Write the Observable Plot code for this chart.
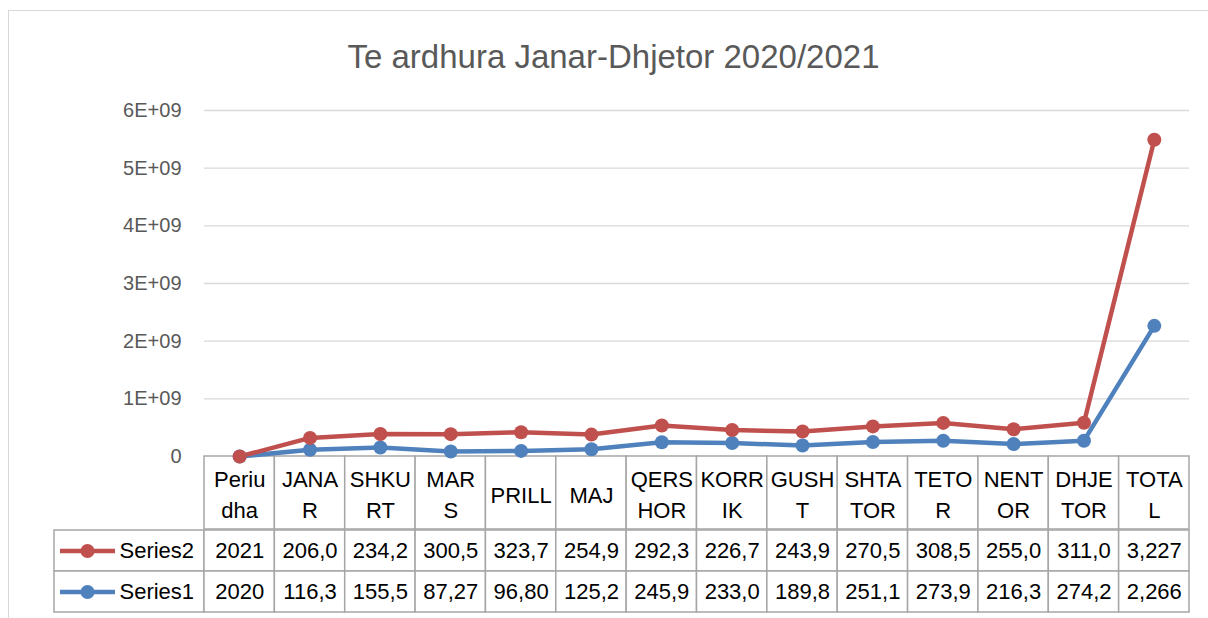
<!DOCTYPE html>
<html>
<head>
<meta charset="utf-8">
<script src="https://cdn.jsdelivr.net/npm/d3@7"></script>
<script src="https://cdn.jsdelivr.net/npm/@observablehq/plot@0.6"></script>
<style>
  body { margin: 0; background: #fff; }
  #wrap { position: relative; width: 1208px; height: 618px; overflow: hidden; font-family: "Liberation Sans", Arial, sans-serif; background: #fff; }
  #frame { position: absolute; left: 8px; top: 10px; width: 1230px; height: 640px; border: 1.5px solid #d9d9d9; box-sizing: border-box; }
  #title { position: absolute; left: 8px; width: 1211px; top: 40px; line-height: 33px; font-size: 33px; color: #595959; text-align: center; white-space: nowrap; }
  .layer { position: absolute; left: 0; top: 0; }
</style>
</head>
<body>
<div id="wrap">
  <div id="frame"></div>
  <div id="title">Te ardhura Janar-Dhjetor 2020/2021</div>
</div>
<script>
// ---- data ----
const categories = ["Periudha","JANAR","SHKURT","MARS","PRILL","MAJ","QERSHOR","KORRIK","GUSHT","SHTATOR","TETOR","NENTOR","DHJETOR","TOTAL"];
const headerLabels = ["Periu\ndha","JANA\nR","SHKU\nRT","MAR\nS","PRILL","MAJ","QERS\nHOR","KORR\nIK","GUSH\nT","SHTA\nTOR","TETO\nR","NENT\nOR","DHJE\nTOR","TOTA\nL"];
const seriesNames = ["Series2", "Series1"];
const series1 = [2020, 116.3e6, 155.5e6, 87.27e6, 96.80e6, 125.2e6, 245.9e6, 233.0e6, 189.8e6, 251.1e6, 273.9e6, 216.3e6, 274.2e6, 2266e6];
const series2 = [2021, 206.0e6, 234.2e6, 300.5e6, 323.7e6, 254.9e6, 292.3e6, 226.7e6, 243.9e6, 270.5e6, 308.5e6, 255.0e6, 311.0e6, 3227e6];
const yTicks = [0, 1e9, 2e9, 3e9, 4e9, 5e9, 6e9];
const colors = {Series1: "#4F81BD", Series2: "#C0504D"};

// ---- layout ----
const W = 1208, H = 618;
const plotLeft = 204, plotRight = 1189, plotTop = 110, plotBottom = 456;
const headerBottom = 529, tableBottom = 612, legendLeft = 54;
const step = (plotRight - plotLeft) / categories.length;
const xMin = -0.5 - (plotLeft - legendLeft) / step;
const font = "Liberation Sans, Arial, sans-serif";
const gridColor = "#d9d9d9", cellStroke = "#a6a6a6";

const idx = categories.map((c, i) => i);
const fmtCell = (v, i) => i === 0 ? String(v) : d3.format(",")(Math.round(v)).slice(0, 5);
const fmtTick = d => d === 0 ? "0" : `${d / 1e9}E+09`;

// stacked line rows (Series1 bottom, Series2 on top)
const lineRows = [];
idx.forEach(i => lineRows.push({i, series: "Series1", y: series1[i]}));
idx.forEach(i => lineRows.push({i, series: "Series2", y: series1[i] + series2[i]}));

// table body rows
const cellRows = [];
seriesNames.forEach(s => {
  const vals = s === "Series1" ? series1 : series2;
  idx.forEach(i => cellRows.push({i, series: s, text: fmtCell(vals[i], i)}));
});

const wrap = document.getElementById("wrap");

// ---- header row of the data table ----
const header = Plot.plot({
  width: W, height: H,
  marginTop: plotBottom, marginBottom: H - headerBottom, marginLeft: plotLeft, marginRight: W - plotRight,
  x: {type: "linear", domain: [-0.5, categories.length - 0.5], axis: null},
  style: {fontFamily: font, fontSize: "22px", background: "transparent", overflow: "visible"},
  marks: [
    Plot.barX(idx, {x1: i => i - 0.5, x2: i => i + 0.5, fill: "#fff", stroke: cellStroke, strokeWidth: 1.5}),
    Plot.text(idx, {x: i => i, text: i => headerLabels[i], fill: "#000", fontSize: 22, lineHeight: 1.41})
  ]
});
header.classList.add("layer");
wrap.appendChild(header);

// ---- body rows of the data table (with legend keys) ----
const body = Plot.plot({
  width: W, height: H,
  marginTop: headerBottom, marginBottom: H - tableBottom, marginLeft: legendLeft, marginRight: W - plotRight,
  x: {type: "linear", domain: [xMin, categories.length - 0.5], axis: null},
  y: {type: "band", domain: seriesNames, padding: 0, axis: null},
  style: {fontFamily: font, fontSize: "22px", background: "transparent", overflow: "visible"},
  marks: [
    Plot.barX(seriesNames, {x1: xMin, x2: -0.5, y: d => d, fill: "#fff", stroke: cellStroke, strokeWidth: 1.5}),
    Plot.barX(cellRows, {x1: d => d.i - 0.5, x2: d => d.i + 0.5, y: "series", fill: "#fff", stroke: cellStroke, strokeWidth: 1.5}),
    Plot.ruleY(seriesNames, {y: d => d, x1: xMin, x2: -0.5, insetLeft: 6, insetRight: 89, stroke: d => colors[d], strokeWidth: 4.5}),
    Plot.dot(seriesNames, {y: d => d, x: xMin, dx: 33, r: 7, fill: d => colors[d], stroke: "none"}),
    Plot.text(seriesNames, {y: d => d, x: xMin, dx: 65, text: d => d, textAnchor: "start", fill: "#000", fontSize: 22}),
    Plot.text(cellRows, {x: "i", y: "series", text: "text", fill: "#000", fontSize: 22})
  ]
});
body.classList.add("layer");
wrap.appendChild(body);

// ---- line chart ----
const chart = Plot.plot({
  width: W, height: H,
  marginTop: plotTop, marginBottom: H - plotBottom, marginLeft: plotLeft, marginRight: W - plotRight,
  x: {type: "linear", domain: [-0.5, categories.length - 0.5], axis: null},
  y: {domain: [0, 6e9], axis: null},
  style: {fontFamily: font, fontSize: "20px", color: "#595959", background: "transparent", overflow: "visible"},
  marks: [
    Plot.ruleY(yTicks.filter(d => d > 0), {stroke: gridColor, strokeWidth: 1.3}),
    Plot.axisY({ticks: yTicks, tickFormat: fmtTick, tickSize: 0, tickPadding: 23, fontSize: 20, fill: "#595959", label: null}),
    Plot.lineY(lineRows, {x: "i", y: "y", z: "series", stroke: d => colors[d.series], strokeWidth: 4.5, strokeLinejoin: "round", strokeLinecap: "round"}),
    Plot.dot(lineRows, {x: "i", y: "y", r: 7, fill: d => colors[d.series], stroke: "none"})
  ]
});
chart.classList.add("layer");
wrap.appendChild(chart);
</script>
</body>
</html>
